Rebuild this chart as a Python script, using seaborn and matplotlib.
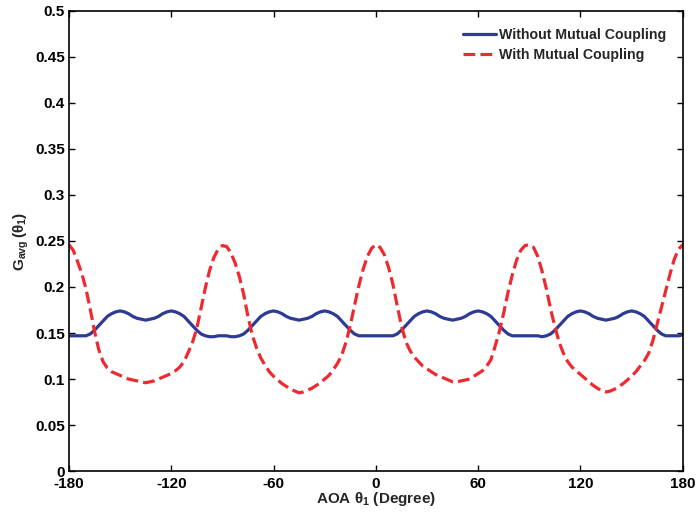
import numpy as np
import pandas as pd
import matplotlib
matplotlib.use('Agg')
import matplotlib.pyplot as plt
import seaborn as sns

# AOA in degrees, 2.5 degree steps from -180 to 180
aoa = list(np.arange(-180, 180.1, 2.5))

# without mutual coupling
g_without = [
    # -180 .. -92.5
    0.147, 0.147, 0.147, 0.147, 0.147, 0.149, 0.153, 0.158, 0.163, 0.168, 0.171, 0.173,
    0.174, 0.173, 0.171, 0.168, 0.166, 0.165, 0.164, 0.165, 0.166, 0.168, 0.171, 0.173,
    0.174, 0.173, 0.171, 0.168, 0.163, 0.158, 0.153, 0.149, 0.147, 0.146, 0.146, 0.147,
    # -90 .. -2.5
    0.147, 0.147, 0.146, 0.146, 0.147, 0.149, 0.153, 0.158, 0.163, 0.168, 0.171, 0.173,
    0.174, 0.173, 0.171, 0.168, 0.166, 0.165, 0.164, 0.165, 0.166, 0.168, 0.171, 0.173,
    0.174, 0.173, 0.171, 0.168, 0.163, 0.158, 0.153, 0.149, 0.147, 0.147, 0.147, 0.147,
    # 0 .. 87.5
    0.147, 0.147, 0.147, 0.147, 0.147, 0.149, 0.153, 0.158, 0.163, 0.168, 0.171, 0.173,
    0.174, 0.173, 0.171, 0.168, 0.166, 0.165, 0.164, 0.165, 0.166, 0.168, 0.171, 0.173,
    0.174, 0.173, 0.171, 0.168, 0.163, 0.158, 0.153, 0.149, 0.147, 0.147, 0.147, 0.147,
    # 90 .. 177.5
    0.147, 0.147, 0.147, 0.146, 0.147, 0.149, 0.153, 0.158, 0.163, 0.168, 0.171, 0.173,
    0.174, 0.173, 0.171, 0.168, 0.166, 0.165, 0.164, 0.165, 0.166, 0.168, 0.171, 0.173,
    0.174, 0.173, 0.171, 0.168, 0.163, 0.158, 0.153, 0.149, 0.147, 0.147, 0.147, 0.147,
    # 180
    0.148,
]

# with mutual coupling
g_with = [
    # -180 .. -92.5
    0.246, 0.240, 0.228, 0.215, 0.198, 0.176, 0.152, 0.132, 0.119, 0.112, 0.108, 0.106,
    0.104, 0.102, 0.100, 0.099, 0.098, 0.097, 0.096, 0.097, 0.098, 0.100, 0.102, 0.104,
    0.106, 0.109, 0.113, 0.119, 0.129, 0.140, 0.155, 0.177, 0.199, 0.218, 0.232, 0.241,
    # -90 .. -2.5
    0.245, 0.244, 0.237, 0.226, 0.211, 0.192, 0.168, 0.148, 0.134, 0.123, 0.115, 0.108,
    0.103, 0.099, 0.095, 0.092, 0.089, 0.087, 0.085, 0.086, 0.088, 0.090, 0.093, 0.096,
    0.100, 0.104, 0.110, 0.117, 0.126, 0.140, 0.158, 0.180, 0.201, 0.219, 0.233, 0.242,
    # 0 .. 87.5
    0.246, 0.243, 0.235, 0.221, 0.203, 0.180, 0.158, 0.141, 0.131, 0.124, 0.119, 0.114,
    0.111, 0.108, 0.105, 0.103, 0.101, 0.099, 0.097, 0.097, 0.098, 0.099, 0.100, 0.103,
    0.106, 0.109, 0.114, 0.121, 0.136, 0.152, 0.172, 0.194, 0.213, 0.229, 0.240, 0.245,
    # 90 .. 177.5
    0.246, 0.243, 0.233, 0.217, 0.198, 0.176, 0.157, 0.140, 0.128, 0.119, 0.113, 0.109,
    0.105, 0.101, 0.097, 0.093, 0.090, 0.087, 0.086, 0.087, 0.089, 0.092, 0.095, 0.099,
    0.103, 0.108, 0.114, 0.120, 0.128, 0.142, 0.160, 0.178, 0.196, 0.214, 0.230, 0.241,
    # 180
    0.246,
]

x_ticks = [-180, -120, -60, 0, 60, 120, 180]
y_ticks = [0, 0.05, 0.1, 0.15, 0.2, 0.25, 0.3, 0.35, 0.4, 0.45, 0.5]
y_ticklabels = ['0', '0.05', '0.1', '0.15', '0.2', '0.25', '0.3', '0.35', '0.4', '0.45', '0.5']

sns.set_style('ticks')
plt.rcParams['font.family'] = ['Liberation Sans', 'DejaVu Sans']
plt.rcParams['font.weight'] = 'bold'
plt.rcParams['mathtext.fontset'] = 'custom'
plt.rcParams['mathtext.rm'] = 'Liberation Sans:bold'
plt.rcParams['mathtext.bf'] = 'Liberation Sans:bold'
plt.rcParams['mathtext.it'] = 'Liberation Sans'

fig = plt.figure(figsize=(6.96, 5.16), dpi=100)
ax = fig.add_axes([0.099, 0.087, 0.882, 0.892])

sns.lineplot(x=aoa, y=g_without, ax=ax, color='#2d3a96', linewidth=2.3,
             label='Without Mutual Coupling')
sns.lineplot(x=aoa, y=g_with, ax=ax, color='#ee2a30', linewidth=2.3,
             linestyle='--', dashes=(3, 1.6), label='With Mutual Coupling')

ax.set_xlim(-180, 180)
ax.set_ylim(0, 0.5)
ax.set_xticks(x_ticks)
ax.set_xticklabels([str(t) for t in x_ticks], fontsize=11, fontweight='bold')
ax.set_yticks(y_ticks)
ax.set_yticklabels(y_ticklabels, fontsize=11, fontweight='bold')
ax.tick_params(direction='in', length=4, width=1, top=True, right=True, pad=3, colors='black')
ax.tick_params(axis='x', pad=4.5)
for sp in ax.spines.values():
    sp.set_visible(True)
    sp.set_linewidth(1.2)
    sp.set_color('black')

ax.set_xlabel(r'AOA $\theta_\mathbf{1}$ (Degree)', fontsize=11, fontweight='bold', labelpad=-1)
ax.set_ylabel(r'$\mathbf{G}_{\mathbf{avg}}\,(\theta_\mathbf{1})$', fontsize=11, labelpad=3)

leg = ax.legend(loc='upper right', frameon=False, fontsize=10.2, handlelength=2.3,
                handletextpad=0.2, labelspacing=0.4, borderaxespad=0.8)
for t in leg.get_texts():
    t.set_fontweight('bold')

fig.savefig('out.png', dpi=100)
